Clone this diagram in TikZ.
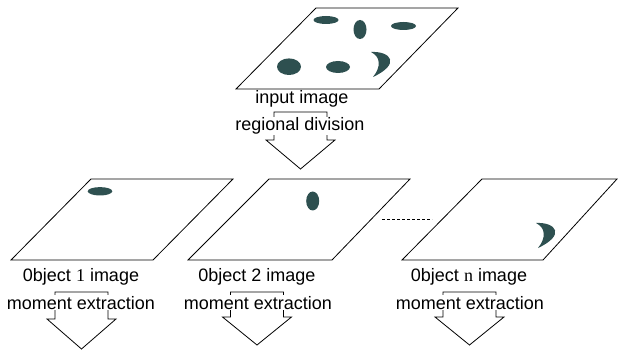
\documentclass[tikz,border=0pt]{standalone}
\usepackage{fontspec}
\setmainfont{Liberation Sans}
\newfontfamily\serifnum{Liberation Serif}
\definecolor{blobc}{RGB}{46,80,80}
\newcommand{\blockarrow}[4]{%
  \draw[arrowline] ({#1-26.5},#2) -- ({#1+26.5},#2) -- ({#1+26.5},#3) -- ({#1+34.5},#3)
    -- (#1,#4) -- ({#1-34.5},#3) -- ({#1-26.5},#3) -- cycle;}
\newcommand{\crescent}[2]{%
  \begin{scope}[shift={(#1,#2)}]
    \fill[blob] (0,0) .. controls (20,-1) and (30,12) .. (2,25)
      .. controls (10,15) and (10,5) .. (0,0) -- cycle;
  \end{scope}}
\begin{document}
\begin{tikzpicture}[x=1pt,y=-1pt,
  frame/.style={draw=black,line width=0.8pt,line join=miter},
  arrowline/.style={draw=black,line width=0.8pt},
  blob/.style={fill=blobc,draw=none},
  lbl/.style={font=\fontsize{18}{21}\selectfont,anchor=base,fill=white,inner sep=0.6pt}]
\useasboundingbox (0,0) rectangle (619,350);
% top input image
\draw[frame] (236,89) -- (379,89) -- (458,8) -- (316,8) -- cycle;
\fill[blob] (326,20) ellipse [x radius=12.5pt,y radius=4pt];
\fill[blob] (360,29.5) ellipse [x radius=6.5pt,y radius=9.5pt];
\fill[blob] (403.5,26) ellipse [x radius=12.5pt,y radius=4pt];
\fill[blob] (289,66.7) ellipse [x radius=12pt,y radius=8.3pt];
\fill[blob] (338,67) ellipse [x radius=12pt,y radius=6pt];
\crescent{371}{52}
% object images
\draw[frame] (11,260) -- (153,260) -- (233,179) -- (91,179) -- cycle;
\fill[blob] (100,191.3) ellipse [x radius=12.3pt,y radius=4.2pt];
\draw[frame] (188,260) -- (332,260) -- (410,179) -- (269,179) -- cycle;
\fill[blob] (312.7,201) ellipse [x radius=6.5pt,y radius=9.5pt];
\draw[frame] (402,260) -- (543,260) -- (617,179) -- (482,179) -- cycle;
\crescent{536}{223}
% dashed ellipsis
\coordinate (d1) at (382,219);
\coordinate (d2) at (432,219);
\draw[line width=0.8pt,dash pattern=on 3pt off 2pt] (d1) -- (d2);
% arrows
\blockarrow{300.5}{112}{140}{169}
\blockarrow{81.5}{292}{319}{349}
\blockarrow{257}{292}{317}{345}
\blockarrow{469.5}{292}{317}{345}
% labels
\node[lbl] (in) at (302,104) {input image};
\node[lbl] (rd) at (300,131) {regional division};
\node[lbl] (o1) at (81,281) {0bject {\serifnum 1} image};
\node[lbl] (m1) at (81,309) {moment extraction};
\node[lbl] (o2) at (257,281) {0bject 2 image};
\node[lbl] (m2) at (258,309) {moment extraction};
\node[lbl] (on) at (469,281) {0bject {\serifnum n} image};
\node[lbl] (mn) at (470,309) {moment extraction};
\end{tikzpicture}
\end{document}
